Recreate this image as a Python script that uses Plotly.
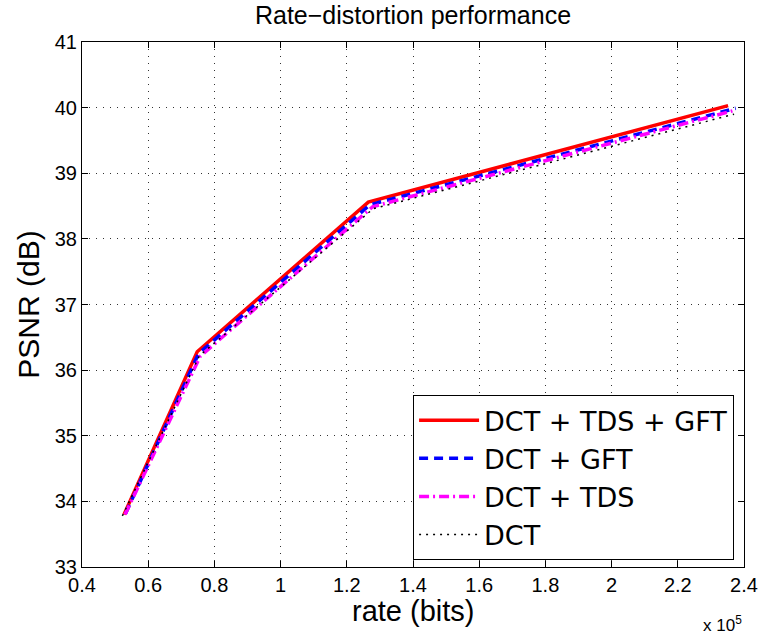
import plotly.graph_objects as go

# rate in units of 1e5 bits, PSNR in dB
rate_tds_gft = [0.527, 0.748, 1.265, 2.352]
psnr_tds_gft = [33.80, 36.28, 38.56, 40.03]

rate_gft = [0.532, 0.752, 1.270, 2.375]
psnr_gft = [33.82, 36.25, 38.52, 39.99]

rate_tds = [0.530, 0.757, 1.278, 2.365]
psnr_tds = [33.80, 36.21, 38.49, 39.95]

rate_dct = [0.522, 0.755, 1.280, 2.370]
psnr_dct = [33.78, 36.22, 38.46, 39.90]

xticks = [0.4, 0.6, 0.8, 1.0, 1.2, 1.4, 1.6, 1.8, 2.0, 2.2, 2.4]
xticklabels = ["0.4", "0.6", "0.8", "1", "1.2", "1.4", "1.6", "1.8", "2", "2.2", "2.4"]
yticks = [33, 34, 35, 36, 37, 38, 39, 40, 41]

font = "Liberation Sans, Arial, Helvetica, sans-serif"
legend_font = "DejaVu Sans, Liberation Sans, Arial, sans-serif"

fig = go.Figure()
fig.add_trace(go.Scatter(x=rate_tds_gft, y=psnr_tds_gft, mode="lines", name="DCT + TDS + GFT",
                         line=dict(color="#ff0000", width=3.5, dash="solid")))
fig.add_trace(go.Scatter(x=rate_gft, y=psnr_gft, mode="lines", name="DCT + GFT",
                         line=dict(color="#0000ff", width=3.5, dash="9px,6px")))
fig.add_trace(go.Scatter(x=rate_tds, y=psnr_tds, mode="lines", name="DCT + TDS",
                         line=dict(color="#ff00ff", width=3.5, dash="10px,4px,2px,4px")))
fig.add_trace(go.Scatter(x=rate_dct, y=psnr_dct, mode="lines", name="DCT",
                         line=dict(color="#000000", width=1.5, dash="2px,5px")))

axis_common = dict(
    showline=True, linecolor="black", linewidth=1, mirror="ticks",
    ticks="inside", ticklen=6, tickcolor="black", tickwidth=1,
    showgrid=True, gridcolor="#333333", gridwidth=1, griddash="1px,6px",
    zeroline=False, tickfont=dict(family=font, size=20, color="black"),
)

fig.update_xaxes(range=[0.4, 2.4], tickvals=xticks, ticktext=xticklabels, **axis_common)
fig.update_yaxes(range=[33, 41], tickvals=yticks,
                 title=dict(text="PSNR (dB)", font=dict(family=font, size=30, color="black"), standoff=6),
                 **axis_common)

# x-axis title placed as annotation to match reference position
fig.add_annotation(text="rate (bits)", xref="paper", yref="paper", x=0.5, y=-0.083,
                   xanchor="center", yanchor="middle", showarrow=False,
                   font=dict(family=font, size=29, color="black"))

fig.add_annotation(text="x 10<sup>5</sup>", xref="paper", yref="paper", x=1.0, y=-0.108,
                   xanchor="right", yanchor="middle", showarrow=False,
                   font=dict(family=font, size=17, color="black"))

fig.update_layout(
    width=770, height=638,
    margin=dict(l=82, r=18, t=42, b=71),
    paper_bgcolor="white", plot_bgcolor="white",
    title=dict(text="Rate\u2212distortion performance", x=0.5, xref="paper", xanchor="center",
               y=1 - 15 / 638, yanchor="middle",
               font=dict(family=font, size=25, color="black")),
    legend=dict(x=0.985, y=0.013, xanchor="right", yanchor="bottom",
                bgcolor="white", bordercolor="black", borderwidth=1,
                font=dict(family=legend_font, size=27, color="black"),
                tracegroupgap=0, itemwidth=60),
    showlegend=True,
)

fig.write_html("out.html")
